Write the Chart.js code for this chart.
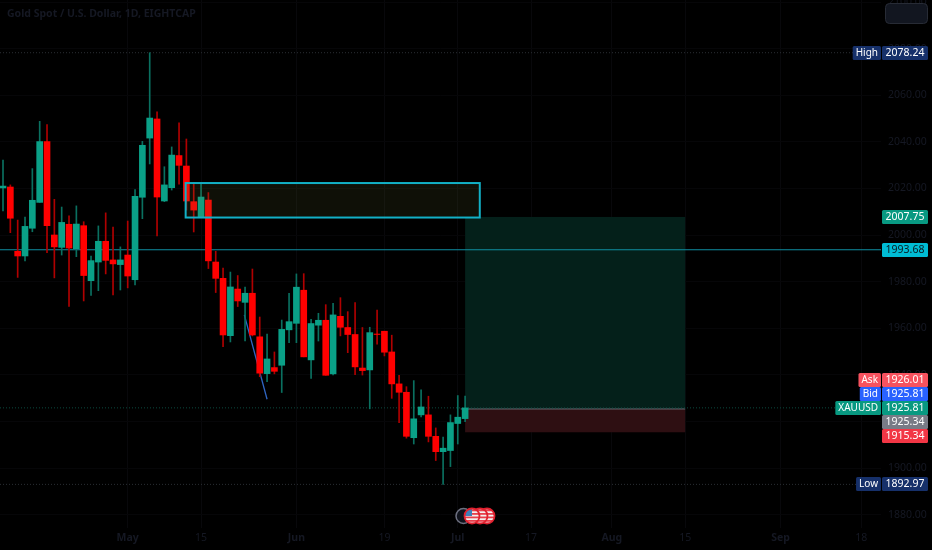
<!DOCTYPE html>
<html>
<head>
<meta charset="utf-8">
<title>Gold Spot / U.S. Dollar</title>
<script src="https://cdn.jsdelivr.net/npm/chart.js@4/dist/chart.umd.min.js"></script>
<style>
  html, body { margin: 0; padding: 0; background: #000; }
  #wrap { width: 932px; height: 550px; }
</style>
</head>
<body>
<div id="wrap"><canvas id="myChart" width="932" height="550"></canvas></div>
<script>
// ------------------------------data------------------------------
const opens = [2020.2,2020.6,1993.0,1991.0,2002.9,2014.0,2040.1,2000.0,1994.7,2004.6,1994.1,2004.0,1980.4,1988.4,1997.3,1989.3,1987.3,1991.4,1980.8,2016.2,2041.6,2049.8,2014.6,2020.3,2034.1,2029.6,2014.3,2007.6,2015.0,1988.4,1981.4,1956.8,1976.8,1971.1,1975.0,1956.3,1940.5,1943.1,1944.1,1959.3,1962.1,1976.3,1946.4,1961.3,1963.4,1940.4,1965.1,1960.3,1957.3,1942.9,1942.1,1957.5,1958.7,1949.8,1936.1,1932.5,1913.0,1922.8,1922.8,1913.6,1907.0,1907.5,1919.1,1921.2];
const closes = [2021.0,2007.2,1991.0,2003.7,2014.9,2040.1,2004.0,1994.9,2005.4,1994.4,2004.7,1982.6,1989.0,1997.3,1989.1,1987.6,1989.3,1982.4,2016.6,2038.5,2050.2,2016.3,2021.5,2034.3,2029.9,2014.6,2010.7,2016.3,1988.9,1981.4,1957.1,1977.7,1971.7,1975.0,1957.1,1940.7,1946.8,1941.5,1959.5,1962.8,1977.6,1947.7,1962.0,1963.4,1939.8,1965.7,1960.4,1957.3,1943.4,1941.8,1958.1,1957.3,1949.7,1936.1,1932.5,1913.6,1921.1,1926.2,1913.6,1907.0,1908.5,1919.5,1921.8,1925.8];
const highs  = [2032.2,2021.5,2006.4,2007.7,2028.5,2048.8,2047.4,2015.3,2012.0,2008.2,2012.5,2005.7,1991.0,2003.9,2009.5,2003.4,1994.9,2006.0,2019.5,2040.2,2078.24,2052.9,2029.3,2037.8,2048.1,2041.2,2022.6,2021.9,2018.2,1993.0,1985.8,1984.1,1982.6,1977.6,1985.4,1964.8,1957.5,1949.8,1963.5,1975.0,1983.3,1983.4,1963.8,1966.4,1970.1,1970.7,1973.1,1967.1,1971.0,1960.3,1960.4,1967.8,1958.7,1957.0,1939.8,1934.9,1937.5,1933.5,1930.8,1917.2,1913.3,1922.8,1931.1,1930.9];
const lows   = [2010.3,2001.0,1981.8,1988.9,2001.4,2014.0,1992.4,1981.6,1991.4,1969.3,1990.7,1971.7,1974.1,1976.1,1983.3,1974.3,1976.4,1977.3,1978.6,2007.0,2030.5,1999.6,2014.3,2019.3,2021.8,2010.7,2001.3,2007.6,1985.6,1975.3,1952.1,1954.1,1969.3,1954.5,1956.7,1939.2,1937.1,1940.4,1932.4,1953.8,1953.8,1947.7,1938.4,1954.5,1939.8,1939.9,1956.7,1949.5,1940.1,1939.9,1925.4,1953.2,1948.1,1929.9,1919.5,1912.8,1910.3,1921.9,1911.2,1903.2,1892.97,1900.6,1910.3,1919.9];

const timeTickIndex  = [17, 27, 40, 52, 62, 72, 83, 93, 106, 117];
const timeTickLabels = ['May', '15', 'Jun', '19', 'Jul', '17', 'Aug', '15', 'Sep', '18'];
const priceTicks = [1880, 1900, 1920, 1940, 1960, 1980, 2000, 2020, 2040, 2060, 2080, 2100];

const highLevel = 2078.24;
const lowLevel = 1892.97;
const lastPrice = 1925.81;
const cyanLevel = 1993.68;
const targetPrice = 2007.75;
const entryPrice = 1925.34;
const stopPrice = 1915.34;
const askPrice = 1926.01;

const zoneStart = 24.9;
const zoneEnd = 65;
const zoneTop = 2022.3;
const zoneBottom = 2007.5;
const tradeStart = 63;
const tradeEnd = 93;
const trendX = [32.9, 36];
const trendY = [1965.7, 1929.5];

const titleText = 'Gold Spot / U.S. Dollar, 1D, EIGHTCAP';

// left tag text, value text, row above/below the last price (null = use price), price, box colour, text colour
const tagLeft   = ['High', 'Low', 'Ask', 'Bid', 'XAUUSD', '', '', '', ''];
const tagPrice  = [highLevel, lowLevel, askPrice, lastPrice, lastPrice, entryPrice, stopPrice, targetPrice, cyanLevel];
const tagRow    = [null, null, -2, -1, 0, 1, 2, null, null];
const tagColor  = ['#16306a', '#16306a', '#f7525f', '#2962ff', '#089981', '#787b86', '#f23645', '#089981', '#00bcd4'];
const tagLabel  = ['#16306a', '#16306a', '#f7525f', '#2962ff', '#089981', '', '', '', ''];
const tagText   = ['#ffffff', '#ffffff', '#ffffff', '#ffffff', '#ffffff', '#ffffff', '#ffffff', '#ffffff', '#0a1a20'];

const FONT = '"Noto Sans", sans-serif';
const DIM = '#151823';

// ------------------------------candles------------------------------
const candleX = opens.map((o, i) => i);
const wickData = candleX.map(i => ({ x: i, y: [lows[i], highs[i]] }));
const bodyData = candleX.map(i => ({ x: i, y: [opens[i], closes[i]] }));
const bodyColors = candleX.map(i => closes[i] >= opens[i] ? '#0aa087' : '#ff0000');
const wickColors = candleX.map(i => closes[i] >= opens[i] ? '#0a7060' : '#b00000');

function levelLine(price, color, dash, width, from, to) {
  return {
    type: 'line',
    data: [{ x: from, y: price }, { x: to, y: price }],
    borderColor: color,
    borderWidth: width,
    borderDash: dash,
    pointRadius: 0,
    order: 5
  };
}

// ------------------------------drawings------------------------------
function box(ctx, x, y, w, h, r) {
  ctx.beginPath();
  ctx.roundRect(x, y, w, h, r);
}

const zonesPlugin = {
  id: 'zones',
  beforeDatasetsDraw(chart) {
    const ctx = chart.ctx, xs = chart.scales.x, ys = chart.scales.y;
    const left = xs.getPixelForValue(tradeStart), right = xs.getPixelForValue(tradeEnd);
    const tt = ys.getPixelForValue(targetPrice), te = ys.getPixelForValue(entryPrice), ts = ys.getPixelForValue(stopPrice);
    ctx.save();
    ctx.fillStyle = '#04201a';
    ctx.fillRect(left, tt, right - left, te - tt);
    ctx.fillStyle = '#2e0f12';
    ctx.fillRect(left, te, right - left, ts - te);
    ctx.restore();
  },
  afterDatasetsDraw(chart) {
    const ctx = chart.ctx, xs = chart.scales.x, ys = chart.scales.y;
    const zl = xs.getPixelForValue(zoneStart), zr = xs.getPixelForValue(zoneEnd);
    const zt = ys.getPixelForValue(zoneTop), zb = ys.getPixelForValue(zoneBottom);
    ctx.save();
    ctx.fillStyle = 'rgba(120,130,60,0.12)';
    ctx.fillRect(zl, zt, zr - zl, zb - zt);
    ctx.strokeStyle = '#12b0c6';
    ctx.lineWidth = 2;
    ctx.strokeRect(zl, zt, zr - zl, zb - zt);
    ctx.restore();
  }
};

const tagsPlugin = {
  id: 'tags',
  afterDraw(chart) {
    const ctx = chart.ctx, ys = chart.scales.y;
    ctx.save();
    // title
    ctx.font = 'bold 10.5px ' + FONT;
    ctx.fillStyle = DIM;
    ctx.textAlign = 'left';
    ctx.textBaseline = 'middle';
    ctx.fillText(titleText, 7, 14);
    // empty button top right
    box(ctx, 885.5, 3.5, 42, 20, 4);
    ctx.fillStyle = '#121620';
    ctx.fill();
    ctx.strokeStyle = '#272b35';
    ctx.stroke();
    // price tags
    const lastY = Math.round(ys.getPixelForValue(lastPrice));
    tagPrice.forEach((p, i) => {
      const cy = tagRow[i] === null ? Math.round(ys.getPixelForValue(p)) : lastY + tagRow[i] * 14;
      ctx.font = '10.5px ' + FONT;
      box(ctx, 882, cy - 7, 46, 14, 1.5);
      ctx.fillStyle = tagColor[i];
      ctx.fill();
      ctx.fillStyle = tagText[i];
      ctx.textAlign = 'center';
      ctx.fillText(p.toFixed(2), 905, cy + 0.5);
      if (tagLeft[i]) {
        ctx.font = '10px ' + FONT;
        const w = ctx.measureText(tagLeft[i]).width + 6;
        box(ctx, 881 - w, cy - 7, w, 14, 1.5);
        ctx.fillStyle = tagLabel[i];
        ctx.fill();
        ctx.fillStyle = tagText[i];
        ctx.fillText(tagLeft[i], 881 - w / 2, cy + 0.5);
      }
    });
    // news flags at the bottom
    const flagsX = [487, 480, 472];
    ctx.beginPath();
    ctx.arc(463.5, 516, 7.5, 0, Math.PI * 2);
    ctx.fillStyle = '#10131c';
    ctx.fill();
    ctx.strokeStyle = '#6d7080';
    ctx.lineWidth = 1.5;
    ctx.stroke();
    flagsX.forEach((fx, n) => {
      ctx.save();
      ctx.beginPath();
      ctx.arc(fx, 516, 7.5, 0, Math.PI * 2);
      ctx.clip();
      ctx.fillStyle = '#f4f0f0';
      ctx.fillRect(fx - 8, 508, 16, 16);
      ctx.fillStyle = '#e8404c';
      for (let s = 0; s < 4; s++) ctx.fillRect(fx - 8, 509.5 + s * 3.5, 16, 1.8);
      if (n == 2) {
        ctx.fillStyle = '#3f7fb8';
        ctx.fillRect(fx - 8, 508, 8, 8);
      }
      ctx.restore();
      ctx.beginPath();
      ctx.arc(fx, 516, 7.5, 0, Math.PI * 2);
      ctx.strokeStyle = '#e0202e';
      ctx.lineWidth = 1.8;
      ctx.stroke();
    });
    ctx.restore();
  }
};

// ------------------------------chartJS------------------------------
const pickChart = document.getElementById('myChart');
const xMax = 119.7, xMin = -0.41;

const drawChart = new Chart(pickChart, {
  type: 'bar',
  data: {
    datasets: [
      levelLine(highLevel, '#2a2e33', [1, 2], 1, xMin, xMax),
      levelLine(lowLevel, '#2a2e33', [1, 2], 1, xMin, xMax),
      levelLine(lastPrice, '#0b4a3f', [1, 2], 1, xMin, xMax),
      levelLine(cyanLevel, '#0f8ea2', [], 1.2, xMin, xMax),
      levelLine(entryPrice, '#6a6d76', [], 1, 62.4, tradeEnd),
      {
        type: 'line',
        data: trendX.map((x, i) => ({ x: x, y: trendY[i] })),
        borderColor: '#2f66c4',
        borderWidth: 1.3,
        pointRadius: 0,
        order: 4
      },
      {
        label: 'wicks',
        data: wickData,
        backgroundColor: wickColors,
        barThickness: 1,
        grouped: false,
        order: 2
      },
      {
        label: 'bodies',
        data: bodyData,
        backgroundColor: bodyColors,
        barThickness: 6,
        grouped: false,
        order: 1
      }
    ]
  },
  options: {
    responsive: false,
    animation: false,
    layout: { padding: 0 },
    plugins: { legend: { display: false }, title: { display: false }, tooltip: { enabled: false } },
    scales: {
      x: {
        type: 'linear',
        offset: false,
        min: xMin,
        max: xMax,
        border: { display: false },
        grid: { color: '#08080b', offset: false, drawTicks: false },
        afterBuildTicks(scale) { scale.ticks = timeTickIndex.map(v => ({ value: v })); },
        afterFit(scale) { scale.height = 22; scale.paddingLeft = 0; scale.paddingRight = 0; },
        ticks: {
          autoSkip: false,
          maxRotation: 0,
          padding: 4,
          color: DIM,
          font(c) {
            const bold = c.index % 2 == 0;
            return { family: FONT, size: 10.5, weight: bold ? 'bold' : 'normal' };
          },
          callback(v) { return timeTickLabels[timeTickIndex.indexOf(v)]; }
        }
      },
      y: {
        position: 'right',
        min: 1874.25,
        max: 2100.86,
        border: { display: false },
        grid: { color: '#060608', drawTicks: false },
        afterBuildTicks(scale) { scale.ticks = priceTicks.map(v => ({ value: v })); },
        afterFit(scale) { scale.width = 51; scale.paddingTop = 0; scale.paddingBottom = 0; },
        ticks: {
          padding: 7,
          color: DIM,
          font: { family: FONT, size: 10.5 },
          callback(v) { return v.toFixed(2); }
        }
      }
    }
  },
  plugins: [zonesPlugin, tagsPlugin]
});
</script>
</body>
</html>
